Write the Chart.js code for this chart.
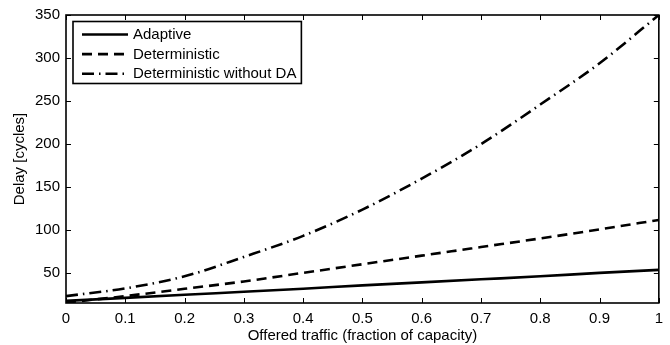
<!DOCTYPE html>
<html>
<head>
<meta charset="utf-8">
<script src="https://cdn.jsdelivr.net/npm/chart.js@4.4.0/dist/chart.umd.min.js"></script>
<style>
  html, body { margin: 0; padding: 0; background: #fff; }
</style>
</head>
<body>
<canvas id="delay" width="670" height="345"></canvas>
<script>
// offered traffic (fraction of capacity)
const load = [0, 0.1, 0.2, 0.3, 0.4, 0.5, 0.6, 0.7, 0.8, 0.9, 1];
// delay in cycles
const adaptive      = [18, 21.5, 25, 28.5, 32, 36, 39.5, 43, 46.5, 50.5, 54];
const deterministic = [16, 23.5, 32, 40.5, 50.5, 60.5, 70.5, 80.5, 90.5, 101, 112];
const withoutDA     = [23.5, 32.5, 46.5, 69, 93.5, 124, 160, 200, 246, 294, 350];

const xTicks = [0, 0.1, 0.2, 0.3, 0.4, 0.5, 0.6, 0.7, 0.8, 0.9, 1];
const yTicks = [50, 100, 150, 200, 250, 300, 350];
const yMin = 15.5, yMax = 350;

const FONT = { family: "'Liberation Sans', Arial, Helvetica, sans-serif", size: 15 };

function pts(ys) {
    return load.map((x, i) => ({ x: x, y: ys[i] }));
}

// MATLAB style box with inward ticks on all four sides
const boxTicks = {
    id: 'boxTicks',
    afterDatasetsDraw(chart) {
        const { ctx, chartArea: a, scales } = chart;
        ctx.save();
        ctx.strokeStyle = '#000';
        ctx.lineWidth = 1;
        ctx.beginPath();
        xTicks.forEach(v => {
            const px = Math.round(scales.x.getPixelForValue(v)) + 0.5;
            ctx.moveTo(px, a.bottom); ctx.lineTo(px, a.bottom - 5);
            ctx.moveTo(px, a.top); ctx.lineTo(px, a.top + 5);
        });
        yTicks.forEach(v => {
            const py = Math.round(scales.y.getPixelForValue(v)) + 0.5;
            ctx.moveTo(a.left, py); ctx.lineTo(a.left + 5, py);
            ctx.moveTo(a.right, py); ctx.lineTo(a.right - 5, py);
        });
        ctx.stroke();
        ctx.lineWidth = 1.6;
        ctx.strokeRect(a.left, a.top, a.right - a.left, a.bottom - a.top);
        ctx.restore();
    }
};

// legend box in the upper left corner of the axes
const insetLegend = {
    id: 'insetLegend',
    afterDraw(chart) {
        const { ctx, chartArea: a } = chart;
        const sets = chart.data.datasets;
        ctx.save();
        ctx.font = FONT.size + 'px ' + FONT.family;
        const textW = Math.max(...sets.map(d => ctx.measureText(d.label).width));
        const bx = a.left + 7, by = a.top + 6.5;
        const bw = 60 + textW + 5, bh = 62;
        ctx.fillStyle = '#fff';
        ctx.fillRect(bx, by, bw, bh);
        ctx.strokeStyle = '#000';
        ctx.lineWidth = 1.6;
        ctx.strokeRect(bx, by, bw, bh);
        sets.forEach((d, i) => {
            const y = by + 13 + i * 19.6;
            ctx.beginPath();
            ctx.setLineDash(d.borderDash || []);
            ctx.lineWidth = d.borderWidth;
            ctx.moveTo(bx + 9, y);
            ctx.lineTo(bx + 55, y);
            ctx.stroke();
            ctx.setLineDash([]);
            ctx.fillStyle = '#000';
            ctx.textBaseline = 'middle';
            ctx.textAlign = 'left';
            ctx.fillText(d.label, bx + 60, y + 0.5);
        });
        ctx.restore();
    }
};

new Chart(document.getElementById('delay'), {
    type: 'line',
    data: {
        datasets: [
            {
                label: 'Adaptive',
                data: pts(adaptive),
                borderColor: '#000',
                borderWidth: 2.6,
                borderDash: []
            },
            {
                label: 'Deterministic',
                data: pts(deterministic),
                borderColor: '#000',
                borderWidth: 2.6,
                borderDash: [10, 6]
            },
            {
                label: 'Deterministic without DA',
                data: pts(withoutDA),
                borderColor: '#000',
                borderWidth: 2.6,
                borderDash: [12, 5, 1.5, 5]
            }
        ]
    },
    options: {
        responsive: false,
        animation: false,
        layout: { padding: { top: 10.5, right: 11, bottom: 0, left: 0 } },
        elements: {
            point: { radius: 0 },
            line: { cubicInterpolationMode: 'monotone', fill: false }
        },
        plugins: {
            legend: { display: false },
            tooltip: { enabled: false }
        },
        scales: {
            x: {
                type: 'linear',
                min: 0,
                max: 1,
                afterBuildTicks: s => { s.ticks = xTicks.map(v => ({ value: v })); },
                afterFit: s => { s.height = 42; },
                grid: { display: false, drawTicks: false, tickLength: 0 },
                border: { display: false },
                ticks: {
                    font: FONT,
                    color: '#000',
                    padding: 7,
                    maxRotation: 0,
                    autoSkip: false,
                    callback: v => String(v)
                },
                title: {
                    display: true,
                    text: 'Offered traffic (fraction of capacity)',
                    font: FONT,
                    color: '#000',
                    padding: { top: 0, bottom: 0 }
                }
            },
            y: {
                min: yMin,
                max: yMax,
                afterBuildTicks: s => { s.ticks = yTicks.map(v => ({ value: v })); },
                afterFit: s => { s.width = 66; },
                grid: { display: false, drawTicks: false, tickLength: 0 },
                border: { display: false },
                ticks: {
                    font: FONT,
                    color: '#000',
                    padding: 6,
                    autoSkip: false,
                    callback: v => String(v)
                },
                title: {
                    display: true,
                    text: 'Delay [cycles]',
                    font: FONT,
                    color: '#000',
                    padding: { top: 11, bottom: 0 }
                }
            }
        }
    },
    plugins: [boxTicks, insetLegend]
});
</script>
</body>
</html>
